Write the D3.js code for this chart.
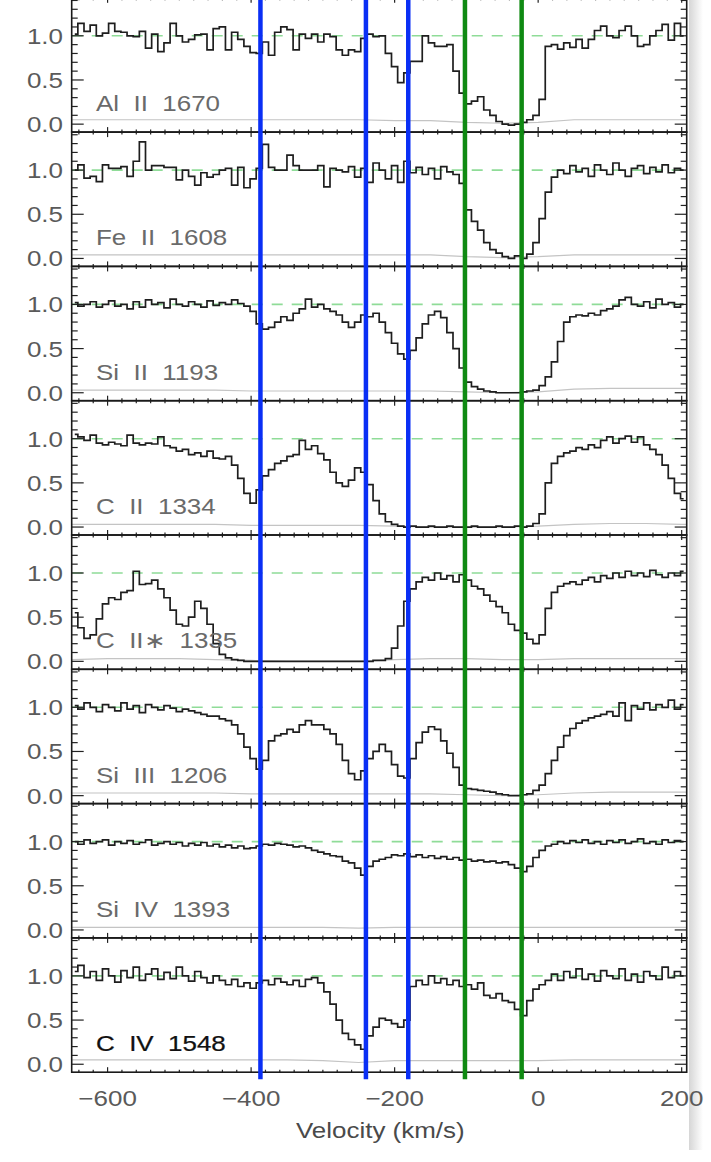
<!DOCTYPE html>
<html>
<head>
<meta charset="utf-8">
<script src="https://cdn.jsdelivr.net/npm/d3@7"></script>
<style>
  body { margin: 0; background: #fff; }
  svg { display: block; font-family: "Liberation Sans", Arial, sans-serif; }
</style>
</head>
<body>
<svg id="chart"></svg>
<script>
// velocity grid of the spectra (km/s), 100 bins over the plotted range
const velStart = -650, velEnd = 207, nBins = 100
const velocity = d3.range(nBins).map(i => velStart + (i + 0.5) * (velEnd - velStart) / nBins)

const panelLabels = ['Al  II  1670', 'Fe  II  1608', 'Si  II  1193', 'C  II  1334',
                     'C  II\u2217  1335', 'Si  III  1206', 'Si  IV  1393', 'C  IV  1548']

// normalised flux
const fluxAl = [
  1.02, 1.14, 1.05, 1.12, 1.00, 1.03, 1.14, 1.05, 1.04, 1.00,
  0.99, 1.05, 0.86, 1.02, 0.82, 0.92, 1.14, 1.00, 0.93, 0.96,
  1.01, 1.02, 0.84, 1.08, 1.10, 0.84, 1.04, 0.96, 0.88, 0.81,
  0.80, 0.93, 0.78, 1.04, 1.10, 1.07, 0.84, 1.02, 0.97, 1.02,
  0.93, 1.02, 0.99, 0.84, 0.78, 0.84, 0.82, 0.97, 1.02, 0.99,
  1.00, 0.80, 0.65, 0.47, 0.58, 0.71, 0.71, 1.00, 0.92, 0.88,
  0.88, 0.90, 0.60, 0.35, 0.23, 0.26, 0.31, 0.16, 0.10, 0.03,
  0.00, -0.01, 0.00, 0.02, 0.05, 0.10, 0.28, 0.88, 0.90, 0.85,
  0.92, 0.87, 0.96, 0.86, 0.96, 1.06, 1.11, 1.00, 0.98, 1.06,
  1.11, 1.00, 0.88, 0.90, 1.00, 1.06, 1.13, 0.95, 1.14, 1.00
]
const fluxFe = [
  1.00, 1.06, 0.91, 0.93, 0.87, 1.06, 1.02, 1.02, 1.04, 0.93,
  1.10, 1.32, 1.00, 1.05, 1.05, 1.03, 1.03, 0.89, 1.00, 0.93,
  0.83, 0.97, 0.92, 0.95, 1.00, 1.02, 0.83, 1.03, 0.80, 0.90,
  1.02, 1.29, 1.03, 1.00, 1.00, 1.17, 1.05, 1.00, 1.00, 1.00,
  1.05, 0.81, 1.02, 1.00, 0.98, 1.04, 0.92, 1.02, 0.86, 1.08,
  1.00, 0.90, 1.05, 0.86, 1.10, 0.97, 1.03, 0.95, 1.02, 0.90,
  1.04, 0.98, 0.95, 0.85, 0.55, 0.42, 0.32, 0.18, 0.10, 0.06,
  0.02, 0.00, 0.03, 0.00, 0.05, 0.18, 0.45, 0.75, 0.92, 1.00,
  0.96, 1.05, 0.98, 1.02, 0.93, 1.06, 1.00, 0.95, 1.08, 1.00,
  0.93, 1.02, 1.05, 0.96, 1.03, 0.98, 1.06, 0.97, 1.02, 1.00
]
const fluxSiII = [
  1.02, 0.98, 1.00, 1.03, 0.97, 1.00, 1.04, 0.98, 1.00, 0.95,
  1.03, 0.97, 1.05, 1.00, 1.02, 0.96, 1.06, 1.00, 0.98, 1.03,
  1.00, 0.97, 1.04, 0.99, 1.02, 1.00, 1.05, 1.01, 0.98, 0.92,
  0.78, 0.72, 0.74, 0.80, 0.86, 0.82, 0.90, 0.95, 1.06, 0.97,
  1.00, 0.95, 0.92, 0.88, 0.80, 0.74, 0.80, 0.88, 0.86, 0.90,
  0.80, 0.68, 0.56, 0.44, 0.38, 0.48, 0.62, 0.78, 0.88, 0.92,
  0.85, 0.68, 0.50, 0.28, 0.12, 0.07, 0.04, 0.02, 0.01, 0.00,
  0.00, 0.00, 0.00, 0.01, 0.02, 0.03, 0.08, 0.18, 0.35, 0.58,
  0.80, 0.86, 0.88, 0.87, 0.90, 0.88, 0.93, 0.95, 0.98, 1.05,
  1.08, 1.00, 0.98, 1.03, 0.96, 1.06, 1.00, 1.02, 0.97, 1.00
]
const fluxCII = [
  1.05, 1.02, 0.98, 1.04, 0.95, 0.93, 0.96, 0.94, 0.92, 1.04,
  0.95, 0.93, 0.95, 0.94, 1.02, 0.92, 0.90, 0.86, 0.88, 0.82,
  0.84, 0.80, 0.86, 0.78, 0.77, 0.80, 0.70, 0.55, 0.38, 0.27,
  0.42, 0.58, 0.65, 0.72, 0.75, 0.80, 0.82, 0.98, 0.88, 0.92,
  0.83, 0.76, 0.62, 0.50, 0.46, 0.53, 0.67, 0.62, 0.48, 0.30,
  0.15, 0.06, 0.03, 0.01, 0.00, 0.01, 0.00, 0.00, 0.01, 0.00,
  0.00, 0.01, 0.00, 0.00, 0.00, 0.01, 0.00, 0.00, 0.00, 0.01,
  0.00, 0.00, 0.01, 0.00, 0.01, 0.04, 0.15, 0.50, 0.72, 0.80,
  0.84, 0.86, 0.90, 0.88, 0.93, 0.90, 0.98, 1.02, 0.95, 1.00,
  1.03, 0.96, 1.02, 0.93, 0.88, 0.82, 0.70, 0.55, 0.38, 0.32
]
const fluxCIIs = [
  0.55, 0.38, 0.26, 0.30, 0.48, 0.65, 0.72, 0.70, 0.78, 0.80,
  1.02, 0.87, 0.88, 0.92, 0.82, 0.72, 0.58, 0.42, 0.40, 0.50,
  0.68, 0.60, 0.42, 0.20, 0.08, 0.04, 0.02, 0.01, 0.00, 0.00,
  0.00, 0.00, 0.00, 0.00, 0.00, 0.00, 0.00, 0.00, 0.00, 0.00,
  0.00, 0.00, 0.00, 0.00, 0.00, 0.00, 0.00, 0.00, 0.00, 0.01,
  0.01, 0.03, 0.15, 0.40, 0.68, 0.82, 0.90, 0.95, 0.92, 1.00,
  0.93, 0.97, 0.90, 0.98, 0.92, 0.85, 0.82, 0.75, 0.68, 0.62,
  0.55, 0.42, 0.35, 0.32, 0.25, 0.20, 0.30, 0.60, 0.78, 0.85,
  0.88, 0.90, 0.87, 0.92, 0.95, 0.90, 0.97, 0.94, 1.00, 0.95,
  1.02, 0.97, 1.00, 0.96, 1.03, 0.98, 0.95, 1.00, 0.97, 1.02
]
const fluxSiIII = [
  1.02, 0.98, 1.05, 1.00, 0.95, 1.03, 1.00, 0.96, 1.05, 0.98,
  1.02, 0.94, 1.03, 1.00, 0.97, 1.02, 0.99, 0.95, 0.98, 0.96,
  0.94, 0.92, 0.90, 0.90, 0.87, 0.85, 0.80, 0.70, 0.55, 0.42,
  0.30, 0.40, 0.62, 0.68, 0.70, 0.75, 0.72, 0.80, 0.85, 0.80,
  0.80, 0.75, 0.70, 0.58, 0.40, 0.25, 0.18, 0.28, 0.42, 0.50,
  0.58, 0.50, 0.35, 0.22, 0.20, 0.42, 0.60, 0.72, 0.78, 0.75,
  0.62, 0.48, 0.32, 0.12, 0.08, 0.07, 0.06, 0.05, 0.04, 0.02,
  0.01, 0.00, 0.00, 0.01, 0.02, 0.06, 0.12, 0.25, 0.40, 0.55,
  0.68, 0.76, 0.82, 0.85, 0.88, 0.90, 0.92, 0.95, 0.90, 1.05,
  0.85, 1.02, 0.98, 1.05, 0.97, 1.03, 1.00, 1.08, 0.98, 1.03
]
const fluxSiIV = [
  1.00, 0.97, 1.02, 0.98, 1.00, 1.02, 0.96, 1.00, 0.98, 1.01,
  0.97, 0.99, 1.02, 0.96, 0.98, 1.00, 0.97, 0.99, 0.95, 0.98,
  0.96, 0.99, 0.95, 0.97, 0.94, 0.96, 0.93, 0.95, 0.92, 0.93,
  0.95, 0.97, 0.96, 0.98, 0.97, 0.96, 0.94, 0.95, 0.93, 0.90,
  0.88, 0.86, 0.84, 0.83, 0.78, 0.76, 0.70, 0.62, 0.72, 0.78,
  0.80, 0.82, 0.85, 0.84, 0.86, 0.83, 0.85, 0.82, 0.84, 0.81,
  0.83, 0.80, 0.82, 0.79, 0.80, 0.78, 0.79, 0.77, 0.78, 0.76,
  0.77, 0.74, 0.70, 0.66, 0.72, 0.82, 0.90, 0.95, 0.97, 1.00,
  0.98, 1.01, 0.99, 1.02, 0.98, 1.00, 0.97, 1.01, 0.99, 1.02,
  0.98, 1.00, 1.03, 0.98, 1.00, 0.97, 1.02, 0.99, 1.01, 1.00
]
const fluxCIV = [
  1.05, 1.12, 0.98, 1.05, 0.95, 1.08, 1.00, 0.93, 1.06, 0.98,
  1.10, 0.95, 1.02, 1.08, 0.96, 1.04, 0.97, 1.10, 1.00, 0.94,
  1.05, 0.98, 0.92, 1.00, 0.95, 0.90, 0.96, 0.88, 0.92, 0.86,
  0.92, 0.95, 0.90, 0.97, 0.93, 0.90, 0.95, 0.88, 0.96, 0.98,
  0.92, 0.82, 0.68, 0.50, 0.35, 0.28, 0.22, 0.17, 0.32, 0.42,
  0.52, 0.50, 0.46, 0.42, 0.50, 0.88, 0.95, 0.90, 1.00, 0.92,
  0.97, 0.90, 0.95, 0.88, 0.90, 0.85, 0.92, 0.78, 0.75, 0.80,
  0.72, 0.70, 0.62, 0.55, 0.72, 0.85, 0.90, 0.95, 1.02, 0.95,
  1.05, 0.98, 1.08, 0.96, 1.02, 0.94, 1.06, 1.00, 0.97, 1.08,
  0.95, 1.02, 0.93, 1.05, 1.00, 0.96, 1.10, 0.98, 1.05, 1.00
]

// error spectra, sampled more coarsely
const errVelocity = [-650, -600, -550, -500, -450, -400, -350, -300, -250, -200,
                     -150, -100, -50, 0, 50, 100, 150, 200, 207]
const errAl    = [0.05, 0.05, 0.05, 0.05, 0.05, 0.05, 0.05, 0.05, 0.05, 0.04, 0.04, 0.02, 0.01, 0.02, 0.05, 0.05, 0.05, 0.05, 0.05]
const errFe    = [0.04, 0.04, 0.04, 0.04, 0.04, 0.04, 0.04, 0.04, 0.04, 0.04, 0.04, 0.02, 0.01, 0.02, 0.04, 0.04, 0.04, 0.04, 0.04]
const errSiII  = [0.03, 0.03, 0.03, 0.03, 0.03, 0.02, 0.02, 0.02, 0.02, 0.02, 0.02, 0.01, 0.00, 0.01, 0.04, 0.05, 0.05, 0.05, 0.05]
const errCII   = [0.03, 0.03, 0.03, 0.03, 0.03, 0.02, 0.02, 0.02, 0.02, 0.01, 0.00, 0.00, 0.00, 0.01, 0.03, 0.04, 0.04, 0.03, 0.03]
const errCIIs  = [0.02, 0.03, 0.03, 0.03, 0.02, 0.01, 0.00, 0.00, 0.00, 0.02, 0.03, 0.03, 0.02, 0.02, 0.03, 0.03, 0.03, 0.03, 0.03]
const errSiIII = [0.03, 0.03, 0.03, 0.03, 0.03, 0.02, 0.02, 0.02, 0.02, 0.02, 0.02, 0.01, 0.00, 0.01, 0.03, 0.04, 0.04, 0.04, 0.04]
const errSiIV  = [0.03, 0.03, 0.03, 0.03, 0.03, 0.03, 0.03, 0.03, 0.02, 0.03, 0.03, 0.03, 0.03, 0.03, 0.03, 0.03, 0.03, 0.03, 0.03]
const errCIV   = [0.05, 0.05, 0.05, 0.05, 0.05, 0.05, 0.05, 0.04, 0.02, 0.04, 0.04, 0.04, 0.04, 0.04, 0.05, 0.05, 0.05, 0.05, 0.05]

const fluxes = [fluxAl, fluxFe, fluxSiII, fluxCII, fluxCIIs, fluxSiIII, fluxSiIV, fluxCIV]
const errors = [errAl, errFe, errSiII, errCII, errCIIs, errSiIII, errSiIV, errCIV]

// velocity components marked across all panels
const blueComponents = [-387, -240, -181]
const greenComponents = [-102, -23]

const xTicks = [-600, -400, -200, 0, 200]
const yTicks = [0, 0.5, 1.0]

function drawStack() {
    const width = 711, height = 1162
    const left = 71.7, right = 686.7
    const firstTop = -2.2, panelH = 134.3
    const textStretch = 1.18

    const svg = d3.select('#chart')
        .attr('width', width)
        .attr('height', height)

    // soft shadow on the right edge of the figure
    const defs = svg.append('defs')
    const grad = defs.append('linearGradient').attr('id', 'shade')
    grad.append('stop').attr('offset', '0%').attr('stop-color', '#d6d6d6')
    grad.append('stop').attr('offset', '100%').attr('stop-color', '#ffffff')
    svg.append('rect')
        .attr('x', 689).attr('y', 0)
        .attr('width', 14).attr('height', 1150)
        .attr('fill', 'url(#shade)')

    defs.append('clipPath').attr('id', 'panelClip')
        .append('rect')
        .attr('x', left).attr('y', 0)
        .attr('width', right - left).attr('height', panelH)

    const x = d3.scaleLinear()
        .domain([velStart, velEnd])
        .range([left, right])

    const y = d3.scaleLinear()
        .domain([-0.09, 1.43])
        .range([panelH, 0])

    const fluxLine = d3.line()
        .x((d, i) => x(velocity[i]))
        .y(d => y(d))
        .curve(d3.curveStep)

    const errLine = d3.line()
        .x((d, i) => x(errVelocity[i]))
        .y(d => y(d))

    const panels = svg.append('g')
        .selectAll('g')
        .data(panelLabels)
        .join('g')
            .attr('transform', (d, i) => `translate(0, ${firstTop + i * panelH})`)

    panels.each(function(label, k) {
        const g = d3.select(this)

        g.append('path')
            .attr('d', errLine(errors[k]))
            .attr('fill', 'none')
            .attr('stroke', '#c4c4c4')
            .attr('stroke-width', 1.2)

        g.append('line')
            .attr('x1', left).attr('x2', right)
            .attr('y1', y(1)).attr('y2', y(1))
            .attr('stroke', '#8fdc98')
            .attr('stroke-width', 1.6)
            .attr('stroke-dasharray', '11,9')

        // continuum-normalised spectrum
        g.append('path')
            .attr('clip-path', 'url(#panelClip)')
            .attr('d', fluxLine(fluxes[k]))
            .attr('fill', 'none')
            .attr('stroke', '#1e1e1e')
            .attr('stroke-width', 1.7)
            .attr('stroke-linejoin', 'miter')

        // y ticks, left and right, majors every 0.5 and minors every 0.1
        const yMinor = d3.range(0, 15).map(v => v / 10)
        g.append('g')
            .selectAll('line')
            .data(yMinor)
            .join('line')
                .attr('x1', left)
                .attr('x2', v => left + (Math.round(v * 10) % 5 === 0 ? 12 : 6))
                .attr('y1', v => y(v)).attr('y2', v => y(v))
                .attr('stroke', '#222').attr('stroke-width', 1.2)
        g.append('g')
            .selectAll('line')
            .data(yMinor)
            .join('line')
                .attr('x1', right)
                .attr('x2', v => right - (Math.round(v * 10) % 5 === 0 ? 12 : 6))
                .attr('y1', v => y(v)).attr('y2', v => y(v))
                .attr('stroke', '#222').attr('stroke-width', 1.2)

        // x ticks on panel top and bottom
        const xMinor = d3.range(-640, 207, 20)
        g.append('g')
            .selectAll('line')
            .data(xMinor)
            .join('line')
                .attr('x1', v => x(v)).attr('x2', v => x(v))
                .attr('y1', panelH)
                .attr('y2', v => panelH - (v % 200 === 0 ? 5 : 2.5))
                .attr('stroke', '#222').attr('stroke-width', 1.2)
        g.append('g')
            .selectAll('line')
            .data(xMinor)
            .join('line')
                .attr('x1', v => x(v)).attr('x2', v => x(v))
                .attr('y1', 0)
                .attr('y2', v => v % 200 === 0 ? 5 : 2.5)
                .attr('stroke', '#222').attr('stroke-width', 1.2)

        g.append('rect')
            .attr('x', left).attr('y', 0)
            .attr('width', right - left).attr('height', panelH)
            .attr('fill', 'none')
            .attr('stroke', '#1a1a1a')
            .attr('stroke-width', 1.6)

        g.append('g')
            .selectAll('text')
            .data(yTicks)
            .join('text')
                .attr('transform', v => `translate(63, ${y(v) + 8}) scale(${textStretch}, 1)`)
                .attr('text-anchor', 'end')
                .style('font-size', '22px')
                .attr('fill', '#5a5a5a')
                .text(v => v.toFixed(1))

        const isLast = k === panelLabels.length - 1
        g.append('text')
            .attr('transform', `translate(96, ${y(0) - 13}) scale(${textStretch}, 1)`)
            .style('white-space', 'pre')
            .style('font-size', '22px')
            .attr('fill', isLast ? '#111' : '#6a6a6a')
            .attr('stroke', isLast ? '#111' : 'none')
            .attr('stroke-width', 0.25)
            .text(label)
    })

    const bottom = firstTop + panelLabels.length * panelH

    svg.append('g')
        .selectAll('text')
        .data(xTicks)
        .join('text')
            .attr('transform', v => `translate(${x(v)}, ${bottom + 34}) scale(${textStretch}, 1)`)
            .attr('text-anchor', 'middle')
            .style('font-size', '22px')
            .attr('fill', '#5a5a5a')
            .text(v => v < 0 ? '\u2212' + Math.abs(v) : v)

    svg.append('text')
        .attr('transform', `translate(${x(-220)}, ${bottom + 66}) scale(${textStretch}, 1)`)
        .attr('text-anchor', 'middle')
        .style('font-size', '22px')
        .attr('fill', '#4a4a4a')
        .text('Velocity (km/s)')

    // component markers drawn over every panel
    const markers = blueComponents.map(v => ({v, c: '#0a2ff5'}))
        .concat(greenComponents.map(v => ({v, c: '#0f8a12'})))
    svg.append('g')
        .selectAll('line')
        .data(markers)
        .join('line')
            .attr('x1', d => x(d.v)).attr('x2', d => x(d.v))
            .attr('y1', 0).attr('y2', bottom + 7)
            .attr('stroke', d => d.c)
            .attr('stroke-width', 4.5)
}

drawStack()
</script>
</body>
</html>
